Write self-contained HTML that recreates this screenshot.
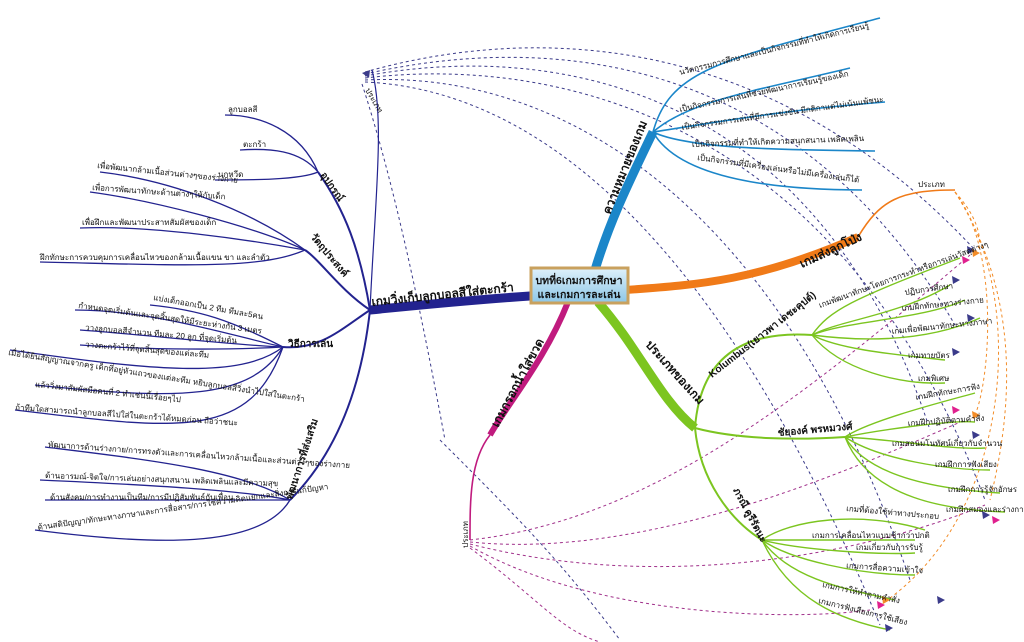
<!DOCTYPE html>
<html><head><meta charset="utf-8"><style>
html,body{margin:0;padding:0;background:#fff;width:1024px;height:642px;overflow:hidden}
svg{display:block}
text{font-family:"Liberation Sans","Noto Sans CJK SC",sans-serif;fill:#111}
.s{font-size:8px}
.m{font-size:10px;font-weight:bold}
.b{font-size:12px;font-weight:bold}
</style></head><body>
<svg width="1024" height="642" viewBox="0 0 1024 642" xmlns="http://www.w3.org/2000/svg">
<defs>
<linearGradient id="bx" x1="0" y1="0" x2="0" y2="1"><stop offset="0" stop-color="#dff1fb"/><stop offset="1" stop-color="#8cc6e6"/></linearGradient>
</defs>
<!-- dashed connectors -->
<g fill="none" stroke-dasharray="3,3" stroke-width="1">
<g stroke="#3b3b8a">
<path d="M365 72 C550 20 780 40 975 250"/>
<path d="M365 74 C560 30 800 60 955 325"/>
<path d="M365 76 C560 40 820 90 930 430"/>
<path d="M365 78 C560 55 840 120 985 500"/>
<path d="M365 80 C560 70 780 200 910 580"/>
<path d="M365 82 C540 90 720 240 880 625"/>
<path d="M362 84 C400 200 430 360 445 440"/>
<path d="M440 440 C520 520 560 560 620 640"/>
</g>
<g stroke="#f28c28">
<path d="M955 192 C1000 250 990 380 975 415"/>
<path d="M955 192 C1010 280 1020 380 990 500"/>
<path d="M955 192 C1030 300 1010 520 880 605"/>
<path d="M955 192 C990 230 980 260 970 250"/>
</g>
<g stroke="#a0308a">
<path d="M470 540 C650 520 800 400 970 255"/>
<path d="M470 542 C650 560 850 470 965 420"/>
<path d="M470 544 C650 590 850 560 985 505"/>
<path d="M470 546 C600 620 800 620 870 610"/>
<path d="M470 548 C540 600 560 630 600 642"/>
</g>
</g>
<!-- dark blue left -->
<g fill="none" stroke="#23238f">
<path d="M530 296 C470 300 420 305 370 310" stroke-width="9"/>
<path d="M370 310 C360 250 345 210 318 172" stroke-width="2"/>
<path d="M370 310 C375 200 385 120 372 70" stroke-width="1.2"/>
<path d="M370 310 C340 290 320 260 305 250" stroke-width="2"/>
<path d="M370 310 C340 330 320 350 283 347" stroke-width="2"/>
<path d="M370 310 C360 400 330 460 290 500" stroke-width="2"/>
<g stroke-width="1.3">
<path d="M318 172 C300 130 260 115 225 115"/>
<path d="M318 172 C300 150 270 148 240 150"/>
<path d="M318 172 C300 180 250 180 215 180"/>
<path d="M305 250 C250 210 170 180 100 172"/>
<path d="M305 250 C250 225 150 200 90 192"/>
<path d="M305 250 C250 240 150 225 80 228"/>
<path d="M305 250 C260 270 180 265 40 262"/>
<path d="M283 347 C230 320 200 310 150 305"/>
<path d="M283 347 C230 335 150 310 75 310"/>
<path d="M283 347 C230 345 150 335 80 330"/>
<path d="M283 347 C230 350 150 350 80 345"/>
<path d="M283 347 C240 380 150 370 10 350"/>
<path d="M283 347 C250 400 180 400 35 385"/>
<path d="M283 347 C250 440 180 430 15 410"/>
<path d="M290 500 C240 470 150 460 45 447"/>
<path d="M290 500 C240 490 150 485 40 480"/>
<path d="M290 500 C240 500 150 500 45 500"/>
<path d="M290 500 C260 550 150 545 35 530"/>
</g>
</g>
<!-- blue top -->
<g fill="none" stroke="#1b86c9">
<path d="M595 270 C610 220 630 180 653 132" stroke-width="9"/>
<g stroke-width="1.6">
<path d="M653 132 C670 70 720 60 880 18"/>
<path d="M653 132 C690 100 760 90 850 68"/>
<path d="M653 132 C700 125 780 110 885 102"/>
<path d="M653 132 C690 150 800 150 875 151"/>
<path d="M653 132 C680 180 780 190 862 190"/>
</g>
</g>
<!-- orange -->
<g fill="none" stroke="#f07a18">
<path d="M625 290 C700 285 760 280 858 237" stroke-width="8"/>
<path d="M858 237 C880 200 900 190 955 190" stroke-width="1.6"/>
</g>
<!-- green -->
<g fill="none" stroke="#7cc520">
<path d="M598 302 C640 350 660 400 695 428" stroke-width="9"/>
<g stroke-width="2">
<path d="M695 428 C700 360 740 330 812 335"/>
<path d="M695 428 C740 440 800 440 845 437"/>
<path d="M695 428 C700 480 730 520 762 540"/>
</g>
<g stroke-width="1.4">
<path d="M812 335 C830 310 850 300 960 258"/>
<path d="M812 335 C840 320 900 315 950 285"/>
<path d="M812 335 C850 320 920 320 965 300"/>
<path d="M812 335 C850 340 920 345 980 318"/>
<path d="M812 335 C840 350 900 355 945 360"/>
<path d="M812 335 C840 370 900 385 945 383"/>
<path d="M845 437 C870 420 950 400 975 393"/>
<path d="M845 437 C880 430 950 420 975 422"/>
<path d="M845 437 C900 440 950 450 985 448"/>
<path d="M845 437 C880 460 950 470 990 470"/>
<path d="M845 437 C870 480 950 490 1000 493"/>
<path d="M845 437 C870 500 950 510 1005 512"/>
<path d="M762 540 C790 520 860 510 925 530"/>
<path d="M762 540 C800 540 880 540 915 540"/>
<path d="M762 540 C800 550 880 555 915 553"/>
<path d="M762 540 C790 560 860 575 915 575"/>
<path d="M762 540 C790 580 850 590 895 600"/>
<path d="M762 540 C790 600 840 620 890 630"/>
</g>
</g>
<!-- magenta -->
<g fill="none" stroke="#c01b7e">
<path d="M568 302 C545 360 510 400 490 435" stroke-width="6"/>
<path d="M490 435 C470 460 470 500 470 540" stroke-width="1.6"/>
</g>
<!-- arrowheads -->
<g fill="#3b3b8a">
<polygon points="975,250 967,246 968,254"/><polygon points="960,280 952,276 953,284"/>
<polygon points="975,318 967,314 968,322"/><polygon points="960,352 952,348 953,356"/>
<polygon points="980,435 972,431 973,439"/><polygon points="990,515 982,511 983,519"/>
<polygon points="945,600 937,596 938,604"/><polygon points="893,628 885,624 886,632"/>
<polygon points="362,73 370,70 369,78"/>
</g>
<g fill="#e0208e"><polygon points="970,260 962,256 963,264"/><polygon points="960,410 952,406 953,414"/><polygon points="1000,520 992,516 993,524"/><polygon points="885,605 877,601 878,609"/></g>
<g fill="#f28c28"><polygon points="980,253 972,249 973,257"/><polygon points="980,415 972,411 973,419"/><polygon points="890,600 882,596 883,604"/></g>
<!-- center box -->
<rect x="531" y="268" width="97" height="35" fill="url(#bx)" stroke="#c9a15e" stroke-width="3"/>
<text x="579" y="284" text-anchor="middle" style="font-size:10.5px;font-weight:bold">บทที่6เกมการศึกษา</text>
<text x="579" y="298" text-anchor="middle" style="font-size:10.5px;font-weight:bold">และเกมการละเล่น</text>
<!-- main labels -->
<text class="b" transform="translate(372,306) rotate(-6)">เกมวิ่งเก็บลูกบอลสีใส่ตะกร้า</text>
<text class="b" transform="translate(610,215) rotate(-68)">ความหมายของเกม</text>
<text class="b" transform="translate(802,268) rotate(-25)">เกมส่งลูกโป่ง</text>
<text class="b" transform="translate(645,345) rotate(48)">ประเภทของเกม</text>
<text class="b" transform="translate(498,428) rotate(-62)">เกมกรอกน้ำใส่ขวด</text>
<!-- left labels -->
<text class="m" transform="translate(320,175) rotate(55)">อุปกรณ์</text>
<text class="m" transform="translate(310,237) rotate(50)">วัตถุประสงค์</text>
<text class="m" transform="translate(288,347)">วิธีการเล่น</text>
<text class="m" transform="translate(292,500) rotate(-72)">พัฒนาการที่ส่งเสริม</text>
<text class="s" transform="translate(365,90) rotate(60)">ประเภท</text>
<g class="s">
<text x="228" y="112" class="s">ลูกบอลสี</text>
<text x="243" y="147" class="s">ตะกร้า</text>
<text x="218" y="177" class="s">นกหวีด</text>
<text class="s" transform="translate(97,168) rotate(6)">เพื่อพัฒนากล้ามเนื้อส่วนต่างๆของร่างกาย</text>
<text class="s" transform="translate(92,190) rotate(4)">เพื่อการพัฒนาทักษะด้านต่างๆให้กับเด็ก</text>
<text x="82" y="225" class="s">เพื่อฝึกและพัฒนาประสาทสัมผัสของเด็ก</text>
<text x="40" y="260" class="s">ฝึกทักษะการควบคุมการเคลื่อนไหวของกล้ามเนื้อแขน ขา และลำตัว</text>
<text class="s" transform="translate(153,300) rotate(10)">แบ่งเด็กออกเป็น 2 ทีม ทีมละ5คน</text>
<text class="s" transform="translate(78,308) rotate(8)">กำหนดจุดเริ่มต้นและจุดสิ้นสุดให้มีระยะห่างกัน 3 เมตร</text>
<text class="s" transform="translate(85,330) rotate(5)">วางลูกบอลสีจำนวน ทีมละ 20 ลูก ที่จุดเริ่มต้น</text>
<text class="s" transform="translate(85,347) rotate(5)">วางตะกร้าไว้ที่จุดสิ้นสุดของแต่ละทีม</text>
<text class="s" transform="translate(8,355) rotate(9)">เมื่อได้ยินสัญญาณจากครู เด็กที่อยู่หัวแถวของแต่ละทีม หยิบลูกบอลสีวิ่งนำไปใส่ในตะกร้า</text>
<text class="s" transform="translate(35,387) rotate(6)">แล้ววิ่งมาสัมผัสมือคนที่ 2 ทำเช่นนี้เรื่อยๆไป</text>
<text class="s" transform="translate(15,410) rotate(4)">ถ้าทีมใดสามารถนำลูกบอลสีไปใส่ในตะกร้าได้หมดก่อน ถือว่าชนะ</text>
<text class="s" transform="translate(48,447) rotate(4)">พัฒนาการด้านร่างกาย/การทรงตัวและการเคลื่อนไหวกล้ามเนื้อและส่วนต่างๆของร่างกาย</text>
<text class="s" transform="translate(45,478) rotate(2)">ด้านอารมณ์-จิตใจ/การเล่นอย่างสนุกสนาน เพลิดเพลินและมีความสุข</text>
<text x="50" y="500" class="s">ด้านสังคม/การทำงานเป็นทีม/การมีปฏิสัมพันธ์กับเพื่อน</text>
<text class="s" transform="translate(38,530) rotate(-8)">ด้านสติปัญญา/ทักษะทางภาษาและการสื่อสาร/การใช้ความคิดแยกและสิ่งการแก้ปัญหา</text>
</g>
<!-- blue leaves -->
<text class="s" transform="translate(680,75) rotate(-14)">นวัตกรรมการศึกษาและเป็นกิจกรรมที่ทำให้เกิดการเรียนรู้</text>
<text class="s" transform="translate(680,112) rotate(-12)">เป็นกิจกรรมการเล่นที่ช่วยพัฒนาการเรียนรู้ของเด็ก</text>
<text class="s" transform="translate(682,130) rotate(-8)">เป็นกิจกรรมการเล่นที่มีการแข่งขัน มีกติกาแต่ไม่เน้นแพ้ชนะ</text>
<text class="s" transform="translate(692,147) rotate(-2)">เป็นกิจกรรมที่ทำให้เกิดความสนุกสนาน เพลิดเพลิน</text>
<text class="s" transform="translate(697,160) rotate(8)">เป็นกิจกรรมที่มีเครื่องเล่นหรือไม่มีเครื่องเล่นก็ได้</text>
<text x="918" y="187" class="s">ประเภท</text>
<!-- green labels -->
<text class="m" transform="translate(712,378) rotate(-38)">Kolumbus(เยาวพา เดชะคุปต์)</text>
<text class="m" transform="translate(778,436) rotate(-5)">ชัยองค์ พรหมวงศ์</text>
<text class="m" transform="translate(733,490) rotate(62)">ภรณี คูรีรัตนะ</text>
<g class="s">
<text class="s" transform="translate(820,308) rotate(-20)">เกมพัฒนาทักษะโดยการกระทำหรือการเล่นวัสดุต่างๆ</text>
<text class="s" transform="translate(905,295) rotate(-8)">ปฏิบการศึกษา</text>
<text class="s" transform="translate(902,311) rotate(-6)">เกมฝึกทักษะทางร่างกาย</text>
<text class="s" transform="translate(892,334) rotate(-6)">เกมเพื่อพัฒนาทักษะทางภาษา</text>
<text x="908" y="358" class="s">เกมทายบัตร</text>
<text x="918" y="381" class="s">เกมพิเศษ</text>
<text class="s" transform="translate(916,400) rotate(-10)">เกมฝึกทักษะการฟัง</text>
<text class="s" transform="translate(908,426) rotate(-4)">เกมฝึกปฏิบัติตามคำสั่ง</text>
<text x="892" y="446" class="s">เกมสอนมโนทัศน์เกี่ยวกับจำนวน</text>
<text x="935" y="467" class="s">เกมฝึกการฟังเสียง</text>
<text x="948" y="492" class="s">เกมฝึกการรู้จักอักษร</text>
<text x="946" y="512" class="s">เกมฝึกสมองและร่างกาย</text>
<text class="s" transform="translate(846,511) rotate(5)">เกมที่ต้องใช้ท่าทางประกอบ</text>
<text x="812" y="538" class="s">เกมการเคลื่อนไหวแบบช้ากว่าปกติ</text>
<text x="856" y="550" class="s">เกมเกี่ยวกับการรับรู้</text>
<text class="s" transform="translate(846,568) rotate(4)">เกมการสื่อความเข้าใจ</text>
<text class="s" transform="translate(822,587) rotate(12)">เกมการให้ทำตามคำสั่ง</text>
<text class="s" transform="translate(818,603) rotate(14)">เกมการฟังเสียงการใช้เสียง</text>
</g>
<text class="s" transform="translate(468,548) rotate(-90)">ประเภท</text>
</svg>
</body></html>
